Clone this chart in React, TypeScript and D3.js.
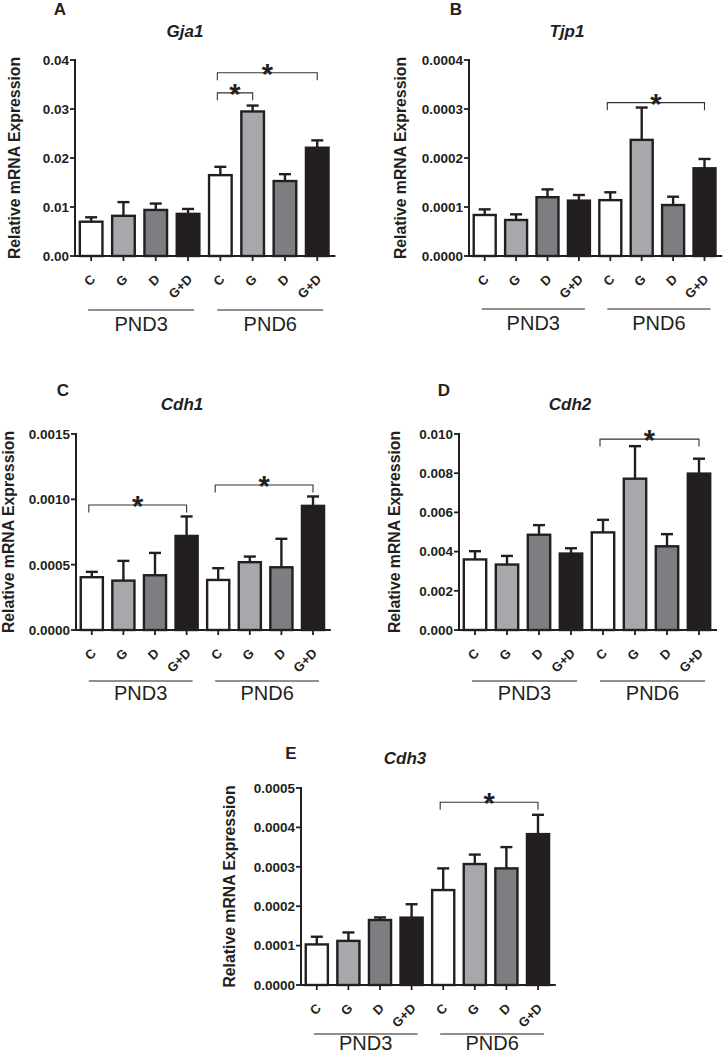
import React from "react";
import * as d3 from "d3";

// ---------- DATA ----------
const groups = ["C", "G", "D", "G+D", "C", "G", "D", "G+D"];
const periods = ["PND3", "PND6"];
const fillColors = ["#ffffff", "#a7a8ab", "#7d7e82", "#231f20"];

const gja1Mean = [0.007, 0.0082, 0.0094, 0.0086, 0.0165, 0.0295, 0.0153, 0.0221];
const gja1Err = [0.0009, 0.0028, 0.0013, 0.001, 0.0017, 0.0012, 0.0014, 0.0015];
const gja1Ticks = [0, 0.01, 0.02, 0.03, 0.04];

const tjp1Mean = [0.0000837, 0.0000735, 0.00012, 0.000113, 0.000114, 0.000237, 0.000104, 0.000179];
const tjp1Err = [0.0000115, 0.0000115, 0.000016, 0.0000115, 0.000016, 0.000066, 0.000017, 0.000019];
const tjp1Ticks = [0, 0.0001, 0.0002, 0.0003, 0.0004];

const cdh1Mean = [0.000404, 0.000378, 0.000419, 0.00072, 0.000383, 0.000519, 0.00048, 0.00095];
const cdh1Err = [0.000041, 0.000151, 0.000171, 0.000149, 0.00009, 0.000043, 0.000218, 0.000072];
const cdh1Ticks = [0, 0.0005, 0.001, 0.0015];

const cdh2Mean = [0.0036, 0.00334, 0.00486, 0.0039, 0.00498, 0.00772, 0.00427, 0.00798];
const cdh2Err = [0.00042, 0.00044, 0.00049, 0.00027, 0.00064, 0.00166, 0.00062, 0.00076];
const cdh2Ticks = [0, 0.002, 0.004, 0.006, 0.008, 0.01];

const cdh3Mean = [0.000103, 0.000112, 0.000165, 0.000171, 0.000241, 0.000307, 0.000296, 0.000383];
const cdh3Err = [0.0000195, 0.0000214, 0.0000065, 0.000034, 0.000055, 0.000024, 0.000054, 0.000049];
const cdh3Ticks = [0, 0.0001, 0.0002, 0.0003, 0.0004, 0.0005];

// significance brackets: [from index, to index, height in data units]
const gja1Sig = [[4, 7, 0.0374], [4, 5, 0.0333]];
const tjp1Sig = [[4, 7, 0.000313]];
const cdh1Sig = [[0, 3, 0.000957], [4, 7, 0.00111]];
const cdh2Sig = [[4, 7, 0.00974]];
const cdh3Sig = [[4, 7, 0.000464]];

// ---------- LAYOUT ----------
const FONT = "'Liberation Sans', Arial, Helvetica, sans-serif";
const INK = "#231f20";

type PanelCfg = {
  letter: string; title: string; mean: number[]; err: number[]; ticks: number[]; fmt: string;
  sig: number[][]; left: number; top: number; height: number; step: number;
  letterX: number; letterY: number; titleX: number; titleY: number; ylabX: number;
  lineDy: number; textDy: number;
};

const panels: PanelCfg[] = [
  { letter: "A", title: "Gja1", mean: gja1Mean, err: gja1Err, ticks: gja1Ticks, fmt: ".2f", sig: gja1Sig,
    left: 75, top: 60, height: 196, step: 32.3, letterX: 60, letterY: 15, titleX: 185, titleY: 37, ylabX: 14, lineDy: 54, textDy: 21 },
  { letter: "B", title: "Tjp1", mean: tjp1Mean, err: tjp1Err, ticks: tjp1Ticks, fmt: ".4f", sig: tjp1Sig,
    left: 469, top: 60, height: 196, step: 31.4, letterX: 456, letterY: 15, titleX: 567, titleY: 37, ylabX: 400, lineDy: 53, textDy: 21 },
  { letter: "C", title: "Cdh1", mean: cdh1Mean, err: cdh1Err, ticks: cdh1Ticks, fmt: ".4f", sig: cdh1Sig,
    left: 76, top: 434, height: 196, step: 31.6, letterX: 63, letterY: 396, titleX: 182, titleY: 410, ylabX: 8, lineDy: 51, textDy: 19 },
  { letter: "D", title: "Cdh2", mean: cdh2Mean, err: cdh2Err, ticks: cdh2Ticks, fmt: ".3f", sig: cdh2Sig,
    left: 459, top: 434, height: 196, step: 32, letterX: 444, letterY: 396, titleX: 570, titleY: 410, ylabX: 394, lineDy: 51, textDy: 19 },
  { letter: "E", title: "Cdh3", mean: cdh3Mean, err: cdh3Err, ticks: cdh3Ticks, fmt: ".4f", sig: cdh3Sig,
    left: 301, top: 788, height: 197, step: 31.6, letterX: 291, letterY: 759, titleX: 405, titleY: 764, ylabX: 229, lineDy: 49, textDy: 16 },
];

function Panel({ p }: { p: PanelCfg }) {
  const idx = groups.map((_, i) => i);
  const width = p.step * groups.length;
  const x = d3.scaleBand<number>().domain(idx).range([p.left, p.left + width]).paddingInner(0.3).paddingOuter(0.15);
  const yMax = p.ticks[p.ticks.length - 1];
  const bottom = p.top + p.height;
  const y = d3.scaleLinear().domain([0, yMax]).range([bottom, p.top]);
  const fmt = d3.format(p.fmt);
  const bw = x.bandwidth();
  const cx = (i: number) => (x(i) as number) + bw / 2;
  const axisEnd = p.left + width + 2;
  const lineY = bottom + p.lineDy;

  return (
    <g>
      <text x={p.letterX} y={p.letterY} textAnchor="middle" fontFamily={FONT} fontWeight="bold" fontSize={17} fill={INK}>{p.letter}</text>
      <text x={p.titleX} y={p.titleY} textAnchor="middle" fontFamily={FONT} fontWeight="bold" fontStyle="italic" fontSize={17} fill={INK}>{p.title}</text>
      <text transform={`translate(${p.ylabX + 5.6},${(p.top + bottom) / 2}) rotate(-90)`} textAnchor="middle"
        fontFamily={FONT} fontWeight="bold" fontSize={15.8} fill={INK}>Relative mRNA Expression</text>

      {/* bars */}
      {p.mean.map((m, i) => (
        <rect key={"b" + i} x={x(i)} y={y(m)} width={bw} height={bottom - y(m)}
          fill={fillColors[i % 4]} stroke={INK} strokeWidth={2.4} />
      ))}
      {/* error bars */}
      {p.mean.map((m, i) => (
        <g key={"e" + i} stroke={INK} strokeWidth={2.4}>
          <line x1={cx(i)} x2={cx(i)} y1={y(m)} y2={y(m + p.err[i])} />
          <line x1={cx(i) - 6} x2={cx(i) + 6} y1={y(m + p.err[i])} y2={y(m + p.err[i])} />
        </g>
      ))}

      {/* y axis */}
      <line x1={p.left} x2={p.left} y1={p.top - 1} y2={bottom} stroke={INK} strokeWidth={2} />
      {p.ticks.map((t, i) => (
        <g key={"yt" + i}>
          <line x1={p.left - 5} x2={p.left} y1={y(t)} y2={y(t)} stroke={INK} strokeWidth={1.8} />
          <text x={p.left - 6} y={y(t)} dy="0.36em" textAnchor="end" fontFamily={FONT} fontWeight="bold" fontSize={13.5} fill={INK}>{fmt(t)}</text>
        </g>
      ))}
      {/* x axis */}
      <line x1={p.left - 1} x2={axisEnd} y1={bottom} y2={bottom} stroke={INK} strokeWidth={2} />
      {groups.map((g, i) => (
        <g key={"xt" + i}>
          <line x1={cx(i)} x2={cx(i)} y1={bottom} y2={bottom + 5} stroke={INK} strokeWidth={1.8} />
          <text transform={`translate(${cx(i) + 5},${bottom + 24}) rotate(-45)`} textAnchor="end"
            fontFamily={FONT} fontWeight="bold" fontSize={13} fill={INK}>{g}</text>
        </g>
      ))}

      {/* group lines */}
      {periods.map((pd, k) => {
        const x1 = cx(k * 4) - 3;
        const x2 = cx(k * 4 + 3) + 6;
        return (
          <g key={"pd" + k}>
            <line x1={x1} x2={x2} y1={lineY} y2={lineY} stroke={INK} strokeWidth={1} />
            <text x={(x1 + x2) / 2} y={lineY + p.textDy} textAnchor="middle" fontFamily={FONT} fontSize={20} fill={INK}>{pd}</text>
          </g>
        );
      })}

      {/* significance */}
      {p.sig.map((s, k) => {
        const x1 = cx(s[0]) - 3;
        const x2 = cx(s[1]);
        const yy = y(s[2]);
        return (
          <g key={"s" + k}>
            <path d={`M${x1},${yy + 7.5}V${yy}H${x2}V${yy + 7.5}`} fill="none" stroke="#333" strokeWidth={1.1} />
            <text x={(x1 + x2) / 2} y={yy + 11} textAnchor="middle" fontFamily={FONT} fontWeight="bold" fontSize={29} fill={INK}>*</text>
          </g>
        );
      })}
    </g>
  );
}

export default function App() {
  return (
    <svg width={723} height={1055} style={{ position: "absolute", left: 0, top: 0, background: "#fff", display: "block" }}>
      <rect x={0} y={0} width={723} height={1055} fill="#fff" />
      {panels.map((p) => <Panel key={p.letter} p={p} />)}
    </svg>
  );
}
